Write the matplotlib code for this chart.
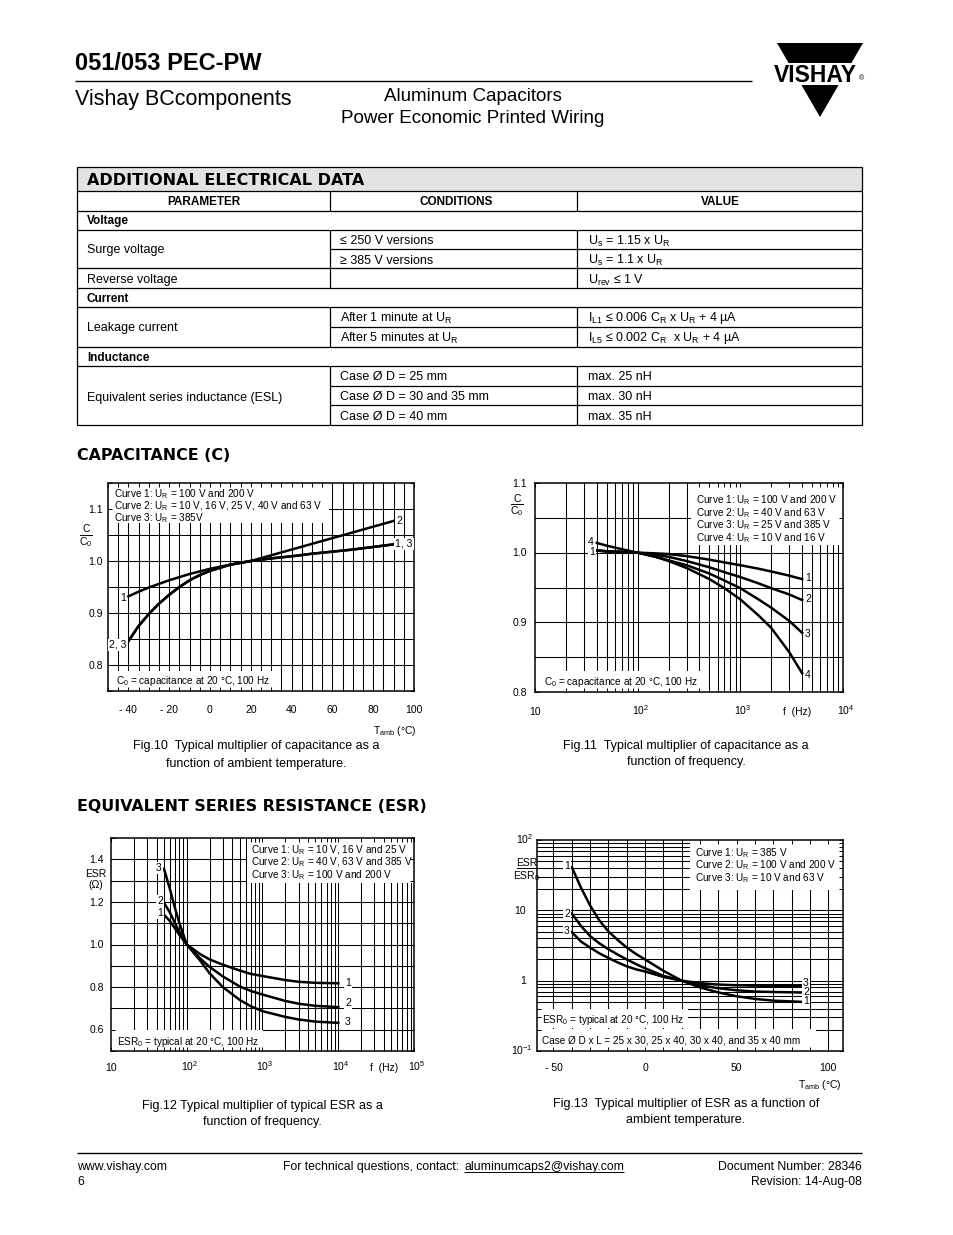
import numpy as np
import matplotlib
matplotlib.use("Agg")
import matplotlib.pyplot as plt
from matplotlib.transforms import Affine2D
from matplotlib.patches import Rectangle, Polygon

plt.rcParams['font.family'] = ['Liberation Sans', 'DejaVu Sans']
plt.rcParams['mathtext.fontset'] = 'custom'
plt.rcParams['mathtext.rm'] = 'Liberation Sans'
plt.rcParams['mathtext.it'] = 'Liberation Sans:italic'
plt.rcParams['mathtext.bf'] = 'Liberation Sans:bold'
plt.rcParams['mathtext.default'] = 'rm'

# ---------------- data ----------------
# Fig.10 capacitance vs temperature
T_CAP = [-40, -35, -30, -25, -20, -15, -10, -5, 0, 10, 20, 30, 40, 50, 60, 70, 80, 90]
CAP_T_C1 = [0.932, 0.941, 0.949, 0.956, 0.963, 0.969, 0.975, 0.980, 0.985, 0.993, 1.0,
            1.005, 1.009, 1.014, 1.018, 1.022, 1.027, 1.032]
CAP_T_C2 = [0.846, 0.875, 0.898, 0.918, 0.935, 0.950, 0.963, 0.973, 0.981, 0.993, 1.0,
            1.011, 1.022, 1.033, 1.044, 1.055, 1.066, 1.077]
CAP_T_C3 = [0.846, 0.875, 0.898, 0.918, 0.935, 0.950, 0.963, 0.973, 0.981, 0.993, 1.0,
            1.005, 1.009, 1.014, 1.018, 1.022, 1.027, 1.032]

# Fig.11 capacitance vs frequency
F_CAP = [40, 50, 70, 100, 150, 200, 300, 500, 700, 1000, 1500, 2000, 3000, 4000]
CAP_F_C1 = [1.003, 1.002, 1.001, 1.0, 0.999, 0.998, 0.995, 0.990, 0.986, 0.982, 0.977, 0.973, 0.967, 0.962]
CAP_F_C2 = [1.003, 1.002, 1.001, 1.0, 0.997, 0.994, 0.988, 0.979, 0.972, 0.965, 0.956, 0.949, 0.940, 0.932]
CAP_F_C3 = [1.003, 1.002, 1.001, 1.0, 0.994, 0.989, 0.982, 0.970, 0.960, 0.949, 0.933, 0.921, 0.902, 0.885]
CAP_F_C4 = [1.014, 1.010, 1.005, 1.0, 0.994, 0.988, 0.978, 0.962, 0.949, 0.933, 0.910, 0.892, 0.857, 0.827]

# Fig.12 ESR vs frequency
F_ESR = [50, 60, 70, 80, 100, 150, 200, 300, 500, 700, 1000, 2000, 3000, 5000, 10000]
ESR_F_C1 = [1.14, 1.11, 1.075, 1.045, 1.0, 0.955, 0.93, 0.905, 0.878, 0.862, 0.852, 0.833, 0.825, 0.820, 0.818]
ESR_F_C2 = [1.196, 1.15, 1.10, 1.06, 1.0, 0.935, 0.895, 0.850, 0.803, 0.782, 0.765, 0.735, 0.722, 0.712, 0.706]
ESR_F_C3 = [1.356, 1.26, 1.17, 1.10, 1.0, 0.925, 0.865, 0.800, 0.740, 0.710, 0.687, 0.660, 0.648, 0.638, 0.632]

# Fig.13 ESR vs temperature
T_ESR = [-40, -35, -30, -25, -20, -15, -10, -5, 0, 10, 20, 30, 40, 50, 60, 70, 85]
ESR_T_C1 = [41, 21, 11.7, 7.2, 5.0, 3.8, 2.95, 2.4, 2.0, 1.38, 1.0, 0.80, 0.68, 0.60, 0.55, 0.52, 0.50]
ESR_T_C2 = [9.0, 6.0, 4.3, 3.4, 2.8, 2.35, 2.0, 1.72, 1.5, 1.17, 1.0, 0.86, 0.78, 0.73, 0.70, 0.69, 0.68]
ESR_T_C3 = [4.9, 3.6, 2.95, 2.45, 2.1, 1.82, 1.6, 1.45, 1.35, 1.13, 1.0, 0.92, 0.88, 0.86, 0.85, 0.84, 0.84]

# Table text
TABLE_SECTIONS = ["Voltage", "Current", "Inductance"]
TABLE_PARAMS = ["Surge voltage", "Reverse voltage", "Leakage current", "Equivalent series inductance (ESL)"]
TABLE_CONDS = ["\u2264 250 V versions", "\u2265 385 V versions", "After 1 minute at U$_R$",
               "After 5 minutes at U$_R$", "Case \u00d8 D = 25 mm", "Case \u00d8 D = 30 and 35 mm",
               "Case \u00d8 D = 40 mm"]
TABLE_VALUES = ["U$_s$ = 1.15 x U$_R$", "U$_s$ = 1.1 x U$_R$", "U$_{rev}$ \u2264 1 V",
                "I$_{L1}$ \u2264 0.006 C$_R$ x U$_R$ + 4 \u00b5A", "I$_{L5}$ \u2264 0.002 C$_R$  x U$_R$ + 4 \u00b5A",
                "max. 25 nH", "max. 30 nH", "max. 35 nH"]

# ---------------- figure ----------------
W, H = 954, 1235
fig = plt.figure(figsize=(9.54, 12.35), dpi=100)
page = fig.add_axes([0, 0, 1, 1])
page.set_xlim(0, W)
page.set_ylim(H, 0)
page.axis('off')
page.set_zorder(0)
pix = Affine2D().scale(1 / W, -1 / H).translate(0, 1) + fig.transFigure


def ptxt(ax, x, y, s, size, ha='left', weight='normal', family=None, box=False, zorder=4):
    off = 0.36 * size * 100 / 72
    kw = {}
    if family:
        kw['family'] = family
    if box:
        kw['bbox'] = dict(facecolor='white', edgecolor='none', pad=0.8)
    return ax.text(x, y + off, s, fontsize=size, ha=ha, va='baseline', weight=weight,
                   transform=pix, clip_on=False, zorder=zorder, **kw)


def pline(xs, ys, lw=0.9):
    page.plot(xs, ys, color='black', lw=lw, solid_capstyle='butt')


# ---------------- header ----------------
ptxt(page, 75, 61, "051/053 PEC-PW", 17, weight='bold')
pline([75, 752], [81, 81], lw=1.0)
ptxt(page, 75, 97, "Vishay BCcomponents", 15.5)
ptxt(page, 473, 94, "Aluminum Capacitors", 13.5, ha='center')
ptxt(page, 473, 116, "Power Economic Printed Wiring", 13.5, ha='center')
# logo
page.add_patch(Polygon([[777, 43], [863, 43], [820, 117]], closed=True, facecolor='black', edgecolor='none'))
page.add_patch(Rectangle((770, 63), 100, 22, facecolor='white', edgecolor='none'))
ptxt(page, 815, 74, "VISHAY", 16.5, ha='center', weight='bold')
ptxt(page, 862, 78, "\u00ae", 5, ha='center')

# ---------------- table ----------------
TX0, TX1, C1, C2 = 77, 862, 330, 577
page.add_patch(Rectangle((TX0, 167), TX1 - TX0, 24, facecolor='#e3e3e3', edgecolor='none'))
page.add_patch(Rectangle((TX0, 167), TX1 - TX0, 258, facecolor='none', edgecolor='black', lw=0.9))
for y in [191, 211, 230, 268, 288, 307, 347, 366]:
    pline([TX0, TX1], [y, y])
for y in [249, 327, 386, 405]:
    pline([C1, TX1], [y, y])
for (ya, yb) in [(191, 211), (230, 288), (307, 347), (366, 425)]:
    pline([C1, C1], [ya, yb])
    pline([C2, C2], [ya, yb])
ptxt(page, 87, 179, "ADDITIONAL ELECTRICAL DATA", 11.5, weight='bold', family='DejaVu Sans')
ptxt(page, 204, 201, "PARAMETER", 8.5, ha='center', weight='bold')
ptxt(page, 456, 201, "CONDITIONS", 8.5, ha='center', weight='bold')
ptxt(page, 720, 201, "VALUE", 8.5, ha='center', weight='bold')
for s, y in zip(TABLE_SECTIONS, [220, 298, 357]):
    ptxt(page, 87, y, s, 8.5, weight='bold')
for s, y in zip(TABLE_PARAMS, [249, 279, 327, 396]):
    ptxt(page, 87, y, s, 9)
for s, y in zip(TABLE_CONDS, [240, 259, 317, 337, 376, 396, 415]):
    ptxt(page, 340, y, s, 9)
for s, y in zip(TABLE_VALUES, [240, 259, 279, 317, 337, 376, 396, 415]):
    ptxt(page, 588, y, s, 9)

# section headings
ptxt(page, 77, 454, "CAPACITANCE (C)", 11.4, weight='bold', family='DejaVu Sans')
ptxt(page, 77, 805, "EQUIVALENT SERIES RESISTANCE (ESR)", 11.4, weight='bold', family='DejaVu Sans')


# ---------------- chart helpers ----------------
def chart(x0, y0, x1, y1):
    ax = fig.add_axes([x0 / W, 1 - y1 / H, (x1 - x0) / W, (y1 - y0) / H])
    ax.set_zorder(1)
    ax.set_axisbelow(False)
    for sp in ax.spines.values():
        sp.set_linewidth(1.1)
    ax.tick_params(which='both', direction='in', top=True, right=True, length=3, width=0.7,
                   labelbottom=False, labelleft=False)
    return ax


def grid(ax, xs, ys):
    for x in xs:
        ax.axvline(x, color='black', lw=0.75, zorder=1)
    for y in ys:
        ax.axhline(y, color='black', lw=0.75, zorder=1)


def wbox(ax, x0, y0, x1, y1):
    ax.add_artist(Rectangle((x0, y0), x1 - x0, y1 - y0, transform=pix, facecolor='white',
                            edgecolor='none', zorder=2))


def d2p(ax, x, y):
    return pix.inverted().transform(ax.transData.transform((x, y)))


def xlabels(ax, vals, labs, ypix, size=7.5):
    for v, s in zip(vals, labs):
        px = d2p(ax, v, ax.get_ylim()[0])[0]
        if '^' in s:
            px += 2.5
        ptxt(ax, px, ypix, s, size, ha='center')


def ylabels(ax, vals, labs, xpix, size=7.5, supx=0):
    for v, s in zip(vals, labs):
        py = d2p(ax, ax.get_xlim()[0], v)[1]
        ptxt(ax, xpix + (supx if '^' in s else 0), py, s, size, ha='right')


LW = 1.8
LS = 7.2

# ---------------- Fig.10 ----------------
ax1 = chart(108, 483, 414, 691)
ax1.set_xlim(-50, 100)
ax1.set_ylim(0.75, 1.15)
ax1.set_xticks(np.arange(-50, 101, 5))
ax1.set_yticks(np.arange(0.75, 1.151, 0.05))
grid(ax1, np.arange(-45, 100, 5), np.arange(0.8, 1.11, 0.05))
ax1.plot(T_CAP, CAP_T_C1, color='black', lw=LW, zorder=3)
ax1.plot(T_CAP, CAP_T_C2, color='black', lw=LW, zorder=3)
ax1.plot(T_CAP, CAP_T_C3, color='black', lw=LW, zorder=3)
wbox(ax1, 108, 483, 329, 523)
wbox(ax1, 108, 671, 280, 691)
for i, s in enumerate(["Curve 1: U$_R$ = 100 V and 200 V",
                       "Curve 2: U$_R$ = 10 V, 16 V, 25 V, 40 V and 63 V",
                       "Curve 3: U$_R$ = 385V"]):
    ptxt(ax1, 114, 494 + 11.7 * i, s, LS)
ptxt(ax1, 116, 680, "C$_0$ = capacitance at 20 \u00b0C, 100 Hz", LS)
ptxt(ax1, 123, 597, "1", 7.5, ha='center', box=True)
ptxt(ax1, 118, 644, "2, 3", 7.5, ha='center', box=True)
ptxt(ax1, 399, 520, "2", 7.5, ha='center', box=True)
ptxt(ax1, 404, 543, "1, 3", 7.5, ha='center', box=True)
xlabels(ax1, [-40, -20, 0, 20, 40, 60, 80, 100], ["- 40", "- 20", "0", "20", "40", "60", "80", "100"], 709)
ylabels(ax1, [0.8, 0.9, 1.0, 1.1], ["0.8", "0.9", "1.0", "1.1"], 103)
ptxt(ax1, 86, 528, "C", 7.5, ha='center')
ax1.plot([80, 92], [534.5, 534.5], transform=pix, color='black', lw=0.7, clip_on=False)
ptxt(ax1, 86, 541, "C$_0$", 7.5, ha='center')
ptxt(ax1, 417, 730, "T$_{amb}$ (\u00b0C)", 7.5, ha='right')
ptxt(page, 256, 745, "Fig.10  Typical multiplier of capacitance as a", 9, ha='center')
ptxt(page, 256, 762, "function of ambient temperature.", 9, ha='center')

# ---------------- Fig.11 ----------------
ax2 = chart(535, 483, 843, 692)
ax2.set_xscale('log')
ax2.set_xlim(10, 1e4)
ax2.set_ylim(0.8, 1.1)
ax2.set_yticks(np.arange(0.8, 1.101, 0.05))
minor_f2 = [m * 10 ** e for e in range(1, 4) for m in range(1, 10)][1:]
grid(ax2, minor_f2, np.arange(0.85, 1.06, 0.05))
for c in [CAP_F_C1, CAP_F_C2, CAP_F_C3, CAP_F_C4]:
    ax2.plot(F_CAP, c, color='black', lw=LW, zorder=3)
wbox(ax2, 691, 483, 843, 545)
wbox(ax2, 535, 671, 703, 692)
for i, s in enumerate(["Curve 1: U$_R$ = 100 V and 200 V", "Curve 2: U$_R$ = 40 V and 63 V",
                       "Curve 3: U$_R$ = 25 V and 385 V", "Curve 4: U$_R$ = 10 V and 16 V"]):
    ptxt(ax2, 696, 500 + 12.4 * i, s, LS)
ptxt(ax2, 544, 681, "C$_0$ = capacitance at 20 \u00b0C, 100 Hz", LS)
ptxt(ax2, 591, 541, "4", 7.5, ha='center', box=True)
ptxt(ax2, 592, 551, "1", 7.5, ha='center', box=True)
for s, y in zip(["1", "2", "3", "4"], [577, 598, 633, 674]):
    ptxt(ax2, 808, y, s, 7.5, ha='center', box=True)
xlabels(ax2, [10, 100, 1000, 10000], ["10", "10$^2$", "10$^3$", "10$^4$"], 711)
ptxt(ax2, 797, 711, "f  (Hz)", 7.5, ha='center')
ylabels(ax2, [0.8, 0.9, 1.0, 1.1], ["0.8", "0.9", "1.0", "1.1"], 527)
ptxt(ax2, 517, 498, "C", 7.5, ha='center')
ax2.plot([511, 523], [503.5, 503.5], transform=pix, color='black', lw=0.7, clip_on=False)
ptxt(ax2, 517, 510, "C$_0$", 7.5, ha='center')
ptxt(page, 686, 745, "Fig.11  Typical multiplier of capacitance as a", 9, ha='center')
ptxt(page, 686, 761, "function of frequency.", 9, ha='center')

# ---------------- Fig.12 ----------------
ax3 = chart(111, 838, 414, 1051)
ax3.set_xscale('log')
ax3.set_xlim(10, 1e5)
ax3.set_ylim(0.5, 1.5)
ax3.set_yticks(np.arange(0.5, 1.51, 0.1))
minor_f3 = [m * 10 ** e for e in range(1, 5) for m in range(1, 10)][1:]
grid(ax3, minor_f3, np.arange(0.6, 1.41, 0.1))
for c in [ESR_F_C1, ESR_F_C2, ESR_F_C3]:
    ax3.plot(F_ESR, c, color='black', lw=LW, zorder=3)
wbox(ax3, 247, 838, 414, 883)
wbox(ax3, 111, 1030, 263, 1051)
for i, s in enumerate(["Curve 1: U$_R$ = 10 V, 16 V and 25 V", "Curve 2: U$_R$ = 40 V, 63 V and 385 V",
                       "Curve 3: U$_R$ = 100 V and 200 V"]):
    ptxt(ax3, 251, 849.5 + 12.3 * i, s, LS)
ptxt(ax3, 117, 1041, "ESR$_0$ = typical at 20 \u00b0C, 100 Hz", LS)
ptxt(ax3, 159, 867, "3", 7.5, ha='center', box=True)
ptxt(ax3, 160, 900, "2", 7.5, ha='center', box=True)
ptxt(ax3, 160, 912.5, "1", 7.5, ha='center', box=True)
for s, y in zip(["1", "2", "3"], [982, 1002, 1021]):
    ptxt(ax3, 348, y, s, 7.5, ha='center', box=True)
xlabels(ax3, [10, 100, 1000, 10000, 100000], ["10", "10$^2$", "10$^3$", "10$^4$", "10$^5$"], 1067)
ptxt(ax3, 384, 1067, "f  (Hz)", 7.5, ha='center')
ylabels(ax3, [0.6, 0.8, 1.0, 1.2, 1.4], ["0.6", "0.8", "1.0", "1.2", "1.4"], 104)
ptxt(ax3, 96, 873, "ESR", 7.5, ha='center')
ptxt(ax3, 96, 884.5, "(\u03a9)", 7.5, ha='center')
ptxt(page, 262, 1104, "Fig.12 Typical multiplier of typical ESR as a", 9, ha='center')
ptxt(page, 262, 1120, "function of frequency.", 9, ha='center')

# ---------------- Fig.13 ----------------
ax4 = chart(537, 840, 843, 1051)
ax4.set_yscale('log')
ax4.set_xlim(-59, 108)
ax4.set_ylim(0.1, 100)
ax4.set_xticks(np.arange(-50, 101, 10))
ax4.set_yticks([0.1, 1, 10, 100])
minor_y4 = [m * 10 ** e for e in range(-1, 2) for m in range(1, 10)][1:]
grid(ax4, np.arange(-50, 101, 10), minor_y4)
for c in [ESR_T_C1, ESR_T_C2, ESR_T_C3]:
    ax4.plot(T_ESR, c, color='black', lw=LW, zorder=3)
wbox(ax4, 690, 840, 843, 890)
wbox(ax4, 537, 1009, 688, 1028)
wbox(ax4, 537, 1029, 816, 1051)
for i, s in enumerate(["Curve 1: U$_R$ = 385 V", "Curve 2: U$_R$ = 100 V and 200 V",
                       "Curve 3: U$_R$ = 10 V and 63 V"]):
    ptxt(ax4, 695, 852.5 + 12.4 * i, s, LS)
ptxt(ax4, 542, 1019, "ESR$_0$ = typical at 20 \u00b0C, 100 Hz", LS)
ptxt(ax4, 542, 1040, "Case \u00d8 D x L = 25 x 30, 25 x 40, 30 x 40, and 35 x 40 mm", LS)
for s, y in zip(["1", "2", "3"], [865.5, 913, 930.5]):
    ptxt(ax4, 567, y, s, 7.5, ha='center', box=True)
for s, y in zip(["3", "2", "1"], [982, 991, 1000.5]):
    ptxt(ax4, 806, y, s, 7.5, ha='center', box=True)
xlabels(ax4, [-50, 0, 50, 100], ["- 50", "0", "50", "100"], 1067)
ylabels(ax4, [0.1, 1, 10, 100], ["10$^{-1}$", "1", "10", "10$^2$"], 526, supx=7)
ptxt(ax4, 527, 862, "ESR", 7.5, ha='center')
ax4.plot([517, 537], [868, 868], transform=pix, color='black', lw=0.7, clip_on=False)
ptxt(ax4, 527, 875, "ESR$_0$", 7.5, ha='center')
ptxt(ax4, 842, 1084, "T$_{amb}$ (\u00b0C)", 7.5, ha='right')
ptxt(page, 686, 1103, "Fig.13  Typical multiplier of ESR as a function of", 9, ha='center')
ptxt(page, 686, 1119, "ambient temperature.", 9, ha='center')

# ---------------- footer ----------------
FS = 8.8
pline([77, 862], [1153, 1153], lw=1.0)
ptxt(page, 77, 1166, "www.vishay.com", FS)
ptxt(page, 77, 1181, "6", FS)
lead = ptxt(page, 283, 1166, "For technical questions, contact: ", FS)
r = fig.canvas.get_renderer()
lb = lead.get_window_extent(r)
lead_x1 = pix.inverted().transform([[lb.x1, lb.y0]])[0][0]
em = ptxt(page, lead_x1 + 2, 1166, "aluminumcaps2@vishay.com", FS)
ptxt(page, 862, 1166, "Document Number: 28346", FS, ha='right')
ptxt(page, 862, 1181, "Revision: 14-Aug-08", FS, ha='right')
bb = em.get_window_extent(r)
(ex0, _), (ex1, _) = pix.inverted().transform([[bb.x0, bb.y0], [bb.x1, bb.y0]])
pline([ex0, ex1], [1172, 1172], lw=0.7)

fig.savefig("out.png", dpi=100, facecolor='white')
